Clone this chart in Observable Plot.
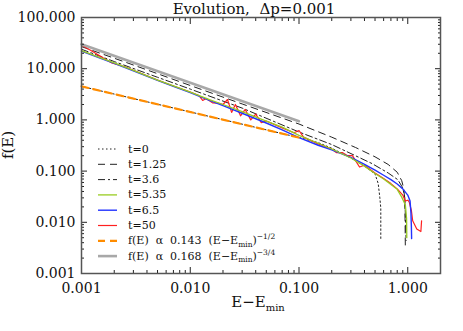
<!DOCTYPE html>
<html><head><meta charset="utf-8">
<script src="https://cdn.jsdelivr.net/npm/d3@7"></script>
<script src="https://cdn.jsdelivr.net/npm/@observablehq/plot@0.6"></script>
<style>body{margin:0;background:#fff;overflow:hidden}</style>
</head><body><div id="chart"></div>
<script>
// ---- data ----
const t0X = [0.001, 0.003, 0.01, 0.03, 0.1, 0.15, 0.2, 0.3, 0.4, 0.5, 0.535, 0.553, 0.565, 0.565];
const t0Y = [4.52, 2.61, 1.43, 0.826, 0.452, 0.36, 0.28, 0.18, 0.125, 0.088, 0.057, 0.031, 0.019, 0.0048];

const t1X = [0.001, 0.003, 0.01, 0.03, 0.1, 0.2, 0.33, 0.5, 0.66, 0.8, 0.88, 0.92, 0.94, 0.945, 0.95];
const t1Y = [27, 11.8, 4.7, 2.05, 0.83, 0.46, 0.29, 0.19, 0.135, 0.095, 0.065, 0.045, 0.025, 0.01, 0.0032];

const t2X = [0.001, 0.002, 0.005, 0.01, 0.03, 0.1, 0.2, 0.33, 0.47, 0.66, 0.81, 0.9, 0.94, 0.955, 0.965];
const t2Y = [24, 13.8, 6.8, 4.0, 1.7, 0.58, 0.33, 0.2, 0.14, 0.092, 0.068, 0.047, 0.03, 0.01, 0.0044];

const t3X = [0.001, 0.0015, 0.002, 0.003, 0.005, 0.007, 0.01, 0.015, 0.02, 0.03, 0.05, 0.07, 0.1, 0.15, 0.2, 0.3, 0.4, 0.5, 0.6, 0.7, 0.8, 0.88, 0.95, 0.975, 0.98];
const t3Y = [22.5, 16.3, 13, 9.3, 6.0, 4.6, 3.5, 2.5, 2.0, 1.45, 0.95, 0.72, 0.5, 0.35, 0.27, 0.18, 0.125, 0.09, 0.07, 0.055, 0.044, 0.031, 0.022, 0.012, 0.005];

const t4X = [0.001, 0.0015, 0.002, 0.003, 0.005, 0.007, 0.01, 0.015, 0.02, 0.03, 0.05, 0.07, 0.1, 0.15, 0.2, 0.3, 0.4, 0.5, 0.6, 0.7, 0.8, 0.9, 1.0, 1.05, 1.07, 1.08, 1.085];
const t4Y = [22, 16, 12.7, 9.1, 5.9, 4.5, 3.4, 2.4, 1.9, 1.35, 0.87, 0.64, 0.45, 0.32, 0.26, 0.185, 0.135, 0.104, 0.083, 0.068, 0.056, 0.045, 0.034, 0.026, 0.015, 0.008, 0.0048];

const t5X = [0.001, 0.0013, 0.0016, 0.0019, 0.0025, 0.003, 0.005, 0.007, 0.01, 0.012, 0.013, 0.014, 0.016, 0.018, 0.02, 0.022, 0.024, 0.026, 0.029, 0.032, 0.036, 0.04, 0.045, 0.05, 0.07, 0.09, 0.1, 0.11, 0.15, 0.2, 0.22, 0.25, 0.28, 0.31, 0.36, 0.4, 0.5, 0.6, 0.7, 0.8, 0.9, 0.95, 1.0, 1.03, 1.08, 1.11, 1.21, 1.32, 1.34];
const t5Y = [29, 21, 16, 13, 10.9, 9.3, 6.0, 4.6, 3.5, 3.0, 2.4, 2.63, 2.15, 2.12, 2.0, 2.5, 1.4, 2.0, 1.2, 1.6, 1.0, 1.3, 0.88, 0.95, 0.70, 0.56, 0.62, 0.46, 0.34, 0.27, 0.23, 0.23, 0.2, 0.2, 0.12, 0.13, 0.092, 0.072, 0.057, 0.045, 0.034, 0.026, 0.027, 0.025, 0.017, 0.0107, 0.0074, 0.0066, 0.0107];

const fitHalfX = [0.001, 0.1];
const fitHalfY = [4.52, 0.452];
const fitThreeQX = [0.001, 0.1];
const fitThreeQY = [29.9, 0.945];

const xMajor = [0.001, 0.01, 0.1, 1];
const yMajor = [0.001, 0.01, 0.1, 1, 10, 100];
const xTickLabels = ["0.001", "0.010", "0.100", "1.000"];
const yTickLabels = ["0.001", "0.010", "0.100", "1.000", "10.000", "100.000"];

// drawing order (later = on top)
const drawOrder = ["t=0", "t=1.25", "t=3.6", "t=50", "t=6.5", "t=5.35", "fit12", "fit34"];
const legendOrder = ["t=0", "t=1.25", "t=3.6", "t=5.35", "t=6.5", "t=50", "fit12", "fit34"];

// ---- styles ----
const styles = {
  "t=0":    {stroke: "#222", strokeWidth: 1, dash: "1.5,2.5"},
  "t=1.25": {stroke: "#222", strokeWidth: 1, dash: "7,5"},
  "t=3.6":  {stroke: "#222", strokeWidth: 1, dash: "7,3,2,3"},
  "t=5.35": {stroke: "#99cc22", strokeWidth: 1.3, dash: null},
  "t=6.5":  {stroke: "#2233ff", strokeWidth: 1.4, dash: null},
  "t=50":   {stroke: "#ff2020", strokeWidth: 1.2, dash: null},
  "fit12":  {stroke: "#ff8c00", strokeWidth: 2.2, dash: "7,5"},
  "fit34":  {stroke: "#a8a8a8", strokeWidth: 2.6, dash: null}
};

const table = (xs, ys) => xs.map((x, i) => ({x, y: ys[i]}));
const sets = {
  "t=0": table(t0X, t0Y), "t=1.25": table(t1X, t1Y), "t=3.6": table(t2X, t2Y),
  "t=5.35": table(t3X, t3Y), "t=6.5": table(t4X, t4Y), "t=50": table(t5X, t5Y),
  "fit12": table(fitHalfX, fitHalfY), "fit34": table(fitThreeQX, fitThreeQY)
};

const minorsFor = (lo, hi) => {
  const out = [];
  for (let e = Math.log10(lo); e < Math.log10(hi); e++)
    for (let k = 2; k <= 9; k++) { const v = k * Math.pow(10, e); if (v <= hi * 1.0001) out.push(v); }
  return out;
};
const xMinor = minorsFor(0.001, 2);
const yMinor = minorsFor(0.001, 100);

const lineMarks = drawOrder.map(n => Plot.line(sets[n], {
  x: "x", y: "y", stroke: styles[n].stroke, strokeWidth: styles[n].strokeWidth,
  strokeDasharray: styles[n].dash, strokeLinejoin: "round", curve: "linear"
}));

const tickColor = "#222";
const chart = Plot.plot({
  width: 463, height: 331,
  marginLeft: 81, marginRight: 23, marginTop: 17, marginBottom: 58,
  style: {fontFamily: "'DejaVu Serif', serif", fontSize: "14px", background: "#fff", color: "#111"},
  x: {type: "log", domain: [0.001, 2]},
  y: {type: "log", domain: [0.001, 100]},
  marks: [
    ...lineMarks,
    Plot.axisX({anchor: "bottom", ticks: xMajor, tickSize: 0, tickPadding: 10, tickFormat: d => xTickLabels[xMajor.indexOf(d)], label: null}),
    Plot.axisY({anchor: "left", ticks: yMajor, tickSize: 0, tickPadding: 6, tickFormat: d => yTickLabels[yMajor.indexOf(d)], label: null}),
    Plot.axisX({anchor: "bottom", ticks: xMajor, tickSize: -6, fill: "none", label: null, stroke: tickColor}),
    Plot.axisX({anchor: "top", ticks: xMajor, tickSize: -6, fill: "none", label: null, stroke: tickColor}),
    Plot.axisY({anchor: "left", ticks: yMajor, tickSize: -6, fill: "none", label: null, stroke: tickColor}),
    Plot.axisY({anchor: "right", ticks: yMajor, tickSize: -6, fill: "none", label: null, stroke: tickColor}),
    Plot.axisX({anchor: "bottom", ticks: xMinor, tickSize: -3, fill: "none", label: null, stroke: tickColor}),
    Plot.axisX({anchor: "top", ticks: xMinor, tickSize: -3, fill: "none", label: null, stroke: tickColor}),
    Plot.axisY({anchor: "left", ticks: yMinor, tickSize: -3, fill: "none", label: null, stroke: tickColor}),
    Plot.axisY({anchor: "right", ticks: yMinor, tickSize: -3, fill: "none", label: null, stroke: tickColor}),
    Plot.frame({stroke: "#555", strokeWidth: 1.5})
  ]
});
document.getElementById("chart").appendChild(chart);

// ---- title, axis labels, legend ----
const svg = d3.select(chart);
const serif = "'DejaVu Serif', serif";

svg.append("text").attr("x", 254).attr("y", 13.5).attr("text-anchor", "middle")
  .attr("font-family", serif).attr("font-size", 15).attr("fill", "#111")
  .style("white-space", "pre").text("Evolution,  Δp=0.001");

svg.append("text").attr("transform", "translate(13,145) rotate(-90)")
  .attr("text-anchor", "middle").attr("font-family", serif).attr("font-size", 15).attr("fill", "#111")
  .text("f(E)");

const xl = svg.append("text").attr("x", 258).attr("y", 307).attr("text-anchor", "middle")
  .attr("font-family", serif).attr("font-size", 15).attr("fill", "#111");
xl.append("tspan").text("E−E");
xl.append("tspan").attr("font-size", 10).attr("dy", 4).text("min");

const legendParts = {
  "t=0": [{t: "t=0"}],
  "t=1.25": [{t: "t=1.25"}],
  "t=3.6": [{t: "t=3.6"}],
  "t=5.35": [{t: "t=5.35"}],
  "t=6.5": [{t: "t=6.5"}],
  "t=50": [{t: "t=50"}],
  "fit12": [{t: "f(E)  α  0.143  (E−E"}, {t: "min", sub: true}, {t: ")"}, {t: "−1/2", sup: true}],
  "fit34": [{t: "f(E)  α  0.168  (E−E"}, {t: "min", sub: true}, {t: ")"}, {t: "−3/4", sup: true}]
};
const lg = svg.append("g").attr("text-anchor", "start");
legendOrder.forEach((key, i) => {
  const yy = 149 + i * 15.3;
  const s = styles[key];
  lg.append("line").attr("x1", 98).attr("x2", 117).attr("y1", yy).attr("y2", yy)
    .attr("stroke", s.stroke).attr("stroke-width", s.strokeWidth)
    .attr("stroke-dasharray", s.dash);
  const tx = lg.append("text").attr("x", 128).attr("y", yy + 3.5).attr("text-anchor", "start")
    .attr("font-family", serif).attr("font-size", 11).attr("fill", "#111").style("white-space", "pre");
  let shift = 0;
  legendParts[key].forEach(p => {
    const ts = tx.append("tspan").text(p.t);
    const target = p.sub ? 2.5 : p.sup ? -5 : 0;
    if (target !== shift) ts.attr("dy", target - shift);
    if (p.sub || p.sup) ts.attr("font-size", 7.5);
    shift = target;
  });
});
</script>
</body></html>
